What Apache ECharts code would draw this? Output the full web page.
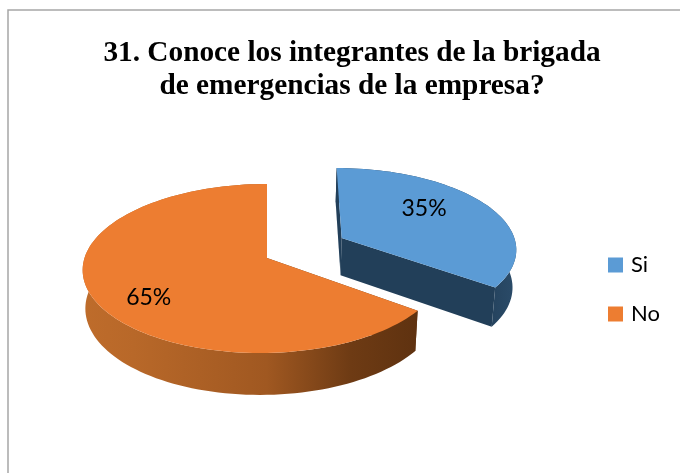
<!DOCTYPE html>
<html>
<head>
<meta charset="utf-8">
<title>Brigada de emergencias</title>
<style>
    html, body {margin: 0; padding: 0; background: #fff;}
    #chart {width: 680px; height: 473px;}
</style>
<script src="https://cdn.jsdelivr.net/npm/echarts@6/dist/echarts.min.js"></script>
</head>
<body>
<div id="chart"></div>
<script>
"use strict";
var categories = ['Si', 'No'];
var values = [35, 65];
var titleLines = ['31. Conoce los integrantes de la brigada', 'de emergencias de la empresa?'];

var topColors = ['#5B9BD5', '#ED7D31'];

// vista en perspectiva del pastel
var view = {cx: 267, cy: 258, rx: 179, ry: 83.2, k: 0.124, height: 38, shrink: 0.985};
var explode = [[0.43, -0.248], [0, 0]];
var skew = [[-4, 0.25], [-3.5, 1]];
var labelFrac = [[0.58, 0.86], [0.70, 1]];

function project(wx, wy, low) {
    var s = 1 / (1 - view.k * wy);
    var b = low ? view.shrink : 1;
    return [
        view.cx + wx * view.rx * s * b,
        view.cy + wy * view.ry * s * b + (low ? view.height * s : 0)
    ];
}

function arcPoints(from, to, index, low) {
    var pts = [];
    var ex = explode[index];
    for (var d = from; d <= to + 0.001; d += 2) {
        var t = d * Math.PI / 180;
        var p = project(ex[0] + Math.sin(t), ex[1] - Math.cos(t), low);
        p[0] += skew[index][0] * (skew[index][1] - Math.cos(t));
        pts.push(p);
    }
    return pts;
}

function wallFill(index) {
    if (index === 0) {
        return new echarts.graphic.LinearGradient(480, 0, 520, 0, [
            {offset: 0, color: '#223F59'},
            {offset: 1, color: '#2C4D6B'}
        ], true);
    }
    return new echarts.graphic.LinearGradient(83, 0, 417, 0, [
        {offset: 0, color: '#BE6C2B'},
        {offset: 0.15, color: '#B86829'},
        {offset: 0.55, color: '#A05821'},
        {offset: 0.8, color: '#6E3B14'},
        {offset: 1, color: '#5F3210'}
    ], true);
}

function renderSlice(index) {
    return function (params, api) {
        var total = values[0] + values[1];
        var start = 0;
        for (var i = 0; i < index; i++) {
            start += values[i] / total * 360;
        }
        var end = start + api.value(0) / total * 360;
        var ex = explode[index];
        var dark = index === 0 ? '#223F59' : '#6A3812';

        var topArc = arcPoints(start, end, index, false);
        var lowArc = arcPoints(start, end, index, true);
        var apex = project(ex[0], ex[1], false);
        var apexLow = project(ex[0], ex[1], true);

        var children = [
            // paredes de los cortes
            {type: 'polygon', shape: {points: [apex, topArc[0], lowArc[0], apexLow]}, style: {fill: dark}},
            {type: 'polygon', shape: {points: [apex, topArc[topArc.length - 1], lowArc[lowArc.length - 1], apexLow]}, style: {fill: dark}},
            // pared exterior
            {type: 'polygon', shape: {points: topArc.concat(lowArc.slice().reverse())}, style: {fill: wallFill(index)}},
            // cara superior
            {type: 'polygon', shape: {points: [apex].concat(topArc)}, style: {fill: topColors[index]}}
        ];

        var mid = (start + end) / 2 * Math.PI / 180;
        var labelPos = project(
            ex[0] + Math.sin(mid) * labelFrac[index][0],
            ex[1] - Math.cos(mid) * labelFrac[index][1],
            false
        );
        children.push({
            type: 'text',
            x: labelPos[0],
            y: labelPos[1],
            style: {
                text: api.value(0) + '%',
                fill: '#000',
                font: '23px Lato',
                align: 'center',
                verticalAlign: 'middle'
            }
        });
        return {type: 'group', children: children};
    };
}

var chart = echarts.init(document.getElementById('chart'), null, {renderer: 'canvas'});

chart.setOption({
    animation: false,
    backgroundColor: '#fff',
    color: topColors,
    title: {
        text: titleLines.join('\n'),
        left: 347,
        top: 32,
        textAlign: 'center',
        textStyle: {
            fontFamily: 'Liberation Serif',
            fontWeight: 'bold',
            fontSize: 29.3,
            lineHeight: 33,
            color: '#000'
        }
    },
    legend: {
        orient: 'vertical',
        left: 603,
        top: 249,
        itemWidth: 15,
        itemHeight: 15,
        itemGap: 27,
        icon: 'rect',
        data: categories,
        textStyle: {fontFamily: 'Lato', fontSize: 22, color: '#000', padding: [0, 0, 0, 3]}
    },
    graphic: [{
        type: 'rect',
        shape: {x: 8, y: 10, width: 700, height: 500},
        style: {fill: 'none', stroke: '#A6A6A6', lineWidth: 1.5},
        silent: true
    }],
    series: categories.map(function (name, i) {
        return {
            type: 'custom',
            name: name,
            coordinateSystem: 'none',
            silent: true,
            renderItem: renderSlice(i),
            data: [[values[i]]]
        };
    })
});
</script>
</body>
</html>
